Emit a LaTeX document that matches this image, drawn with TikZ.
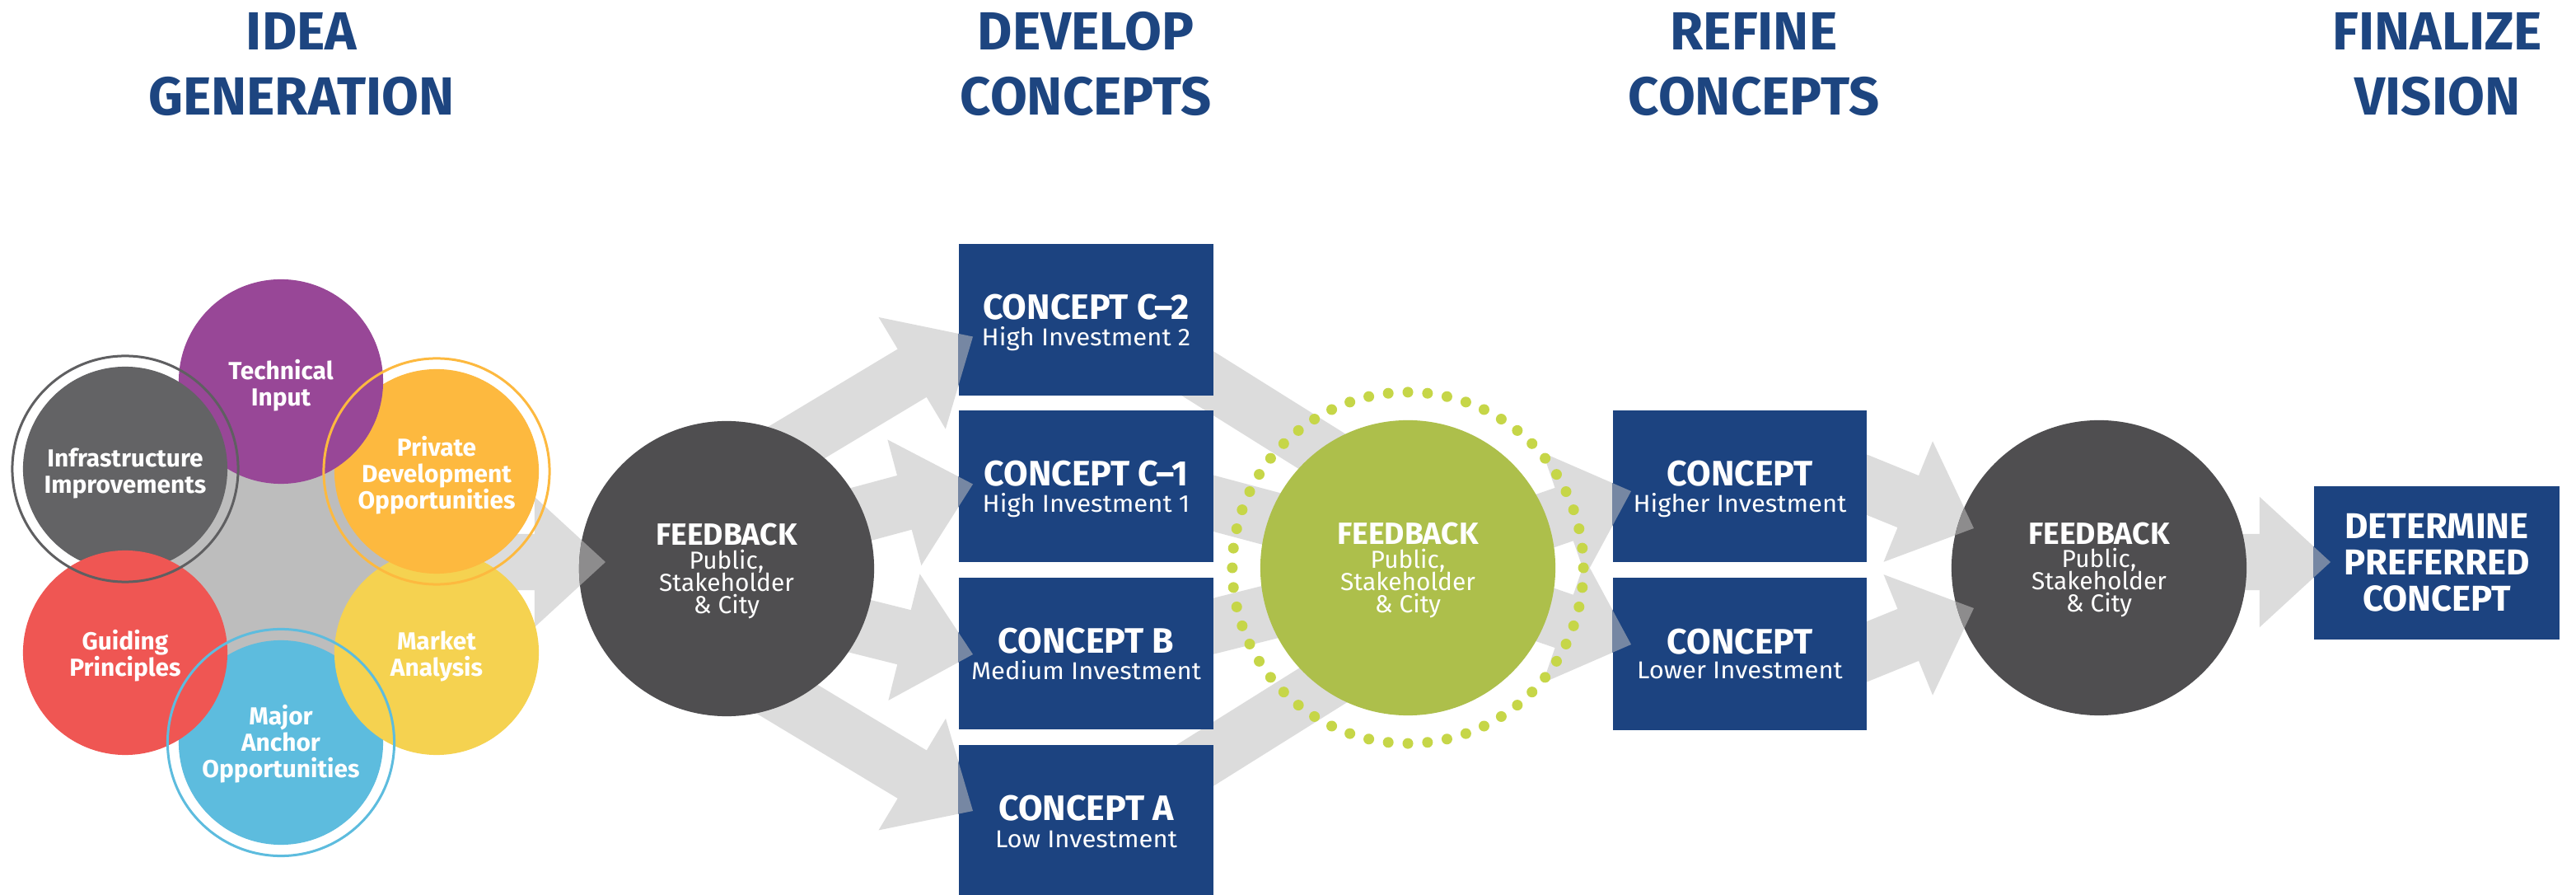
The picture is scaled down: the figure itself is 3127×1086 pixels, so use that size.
\documentclass[tikz,border=0pt]{standalone}
\usepackage{fontspec}
\setmainfont{Fira Sans}
\newfontfamily\subfont{Fira Sans}[FakeStretch=1.05]
\usetikzlibrary{calc}
\definecolor{hblue}{RGB}{29,69,128}
\definecolor{boxblue}{RGB}{28,67,128}
\definecolor{agray}{RGB}{220,220,220}
\definecolor{tintblue}{RGB}{118,135,163}
\definecolor{tintdark}{RGB}{141,140,141}
\definecolor{fbdark}{RGB}{79,78,80}
\definecolor{fbgreen}{RGB}{173,191,75}
\definecolor{dotgreen}{RGB}{198,214,72}
\definecolor{cpurple}{RGB}{152,71,151}
\definecolor{cgray}{RGB}{99,99,101}
\definecolor{cring}{RGB}{95,95,97}
\definecolor{corange}{RGB}{253,185,63}
\definecolor{cred}{RGB}{239,86,83}
\definecolor{cyellow}{RGB}{245,210,80}
\definecolor{cblue}{RGB}{93,188,222}
\definecolor{bggray}{RGB}{189,189,189}

\newcommand{\blockarrow}[3]{%
  \fill[#1] ($(#2)!0.34cm!90:(#3)$)
    -- ($($(#3)!0.86cm!(#2)$)!0.34cm!90:(#3)$)
    -- ($($(#3)!0.86cm!(#2)$)!0.79cm!90:(#3)$)
    -- (#3)
    -- ($($(#3)!0.86cm!(#2)$)!0.79cm!-90:(#3)$)
    -- ($($(#3)!0.86cm!(#2)$)!0.34cm!-90:(#3)$)
    -- ($(#2)!0.34cm!-90:(#3)$) -- cycle;}

\tikzset{
  circ/.style={circle, inner sep=0pt, minimum size=2.48cm},
  clab/.style={text=white, inner sep=0pt, align=center, font=\bfseries\fontsize{8.5}{9.1}\selectfont},
  ringline/.style={line width=0.03cm},
  fbcirc/.style={circle, inner sep=0pt, minimum size=3.58cm},
  cbox/.style={rectangle, fill=boxblue, inner sep=0pt, minimum width=3.09cm, minimum height=1.84cm},
  ttl/.style={text=white, anchor=base, inner sep=0pt, font=\bfseries\fontsize{12.2}{14}\selectfont},
  fttl/.style={text=white, anchor=base, inner sep=0pt, font=\bfseries\fontsize{12.4}{14}\selectfont},
  sub/.style={text=white, anchor=base, inner sep=0pt, font=\subfont\fontsize{8.4}{10}\selectfont},
  fbt/.style={text=white, anchor=base, inner sep=0pt, font=\bfseries\fontsize{10.6}{12}\selectfont},
  fbs/.style={text=white, anchor=base, inner sep=0pt, font=\fontsize{8.5}{10}\selectfont},
  hd/.style={text=hblue, anchor=base, inner sep=0pt, font=\bfseries\fontsize{18.5}{22}\selectfont},
  band/.style={draw=agray, line width=0.66cm},
}

\begin{document}
\begin{tikzpicture}[x=0.01cm, y=-0.01cm]
\fill[white] (0,0) rectangle (3127,1086);
\useasboundingbox (0,0) rectangle (3127,1086);

% ---------- arrow coordinates ----------
\coordinate (cl) at (341,682);   \coordinate (t0) at (735,682);
\coordinate (s1) at (900,577);   \coordinate (t1) at (1181,408.5);
\coordinate (s2) at (900,663);   \coordinate (t2) at (1181,587.5);
\coordinate (s3) at (900,724);   \coordinate (t3) at (1181,794);
\coordinate (s4) at (900,815);   \coordinate (t4) at (1181,984);
\coordinate (b1s) at (1380,407); \coordinate (b1e) at (1650,576);
\coordinate (b2s) at (1380,586); \coordinate (b2e) at (1620,650);
\coordinate (b3s) at (1380,783); \coordinate (b3e) at (1620,723);
\coordinate (b4s) at (1380,973); \coordinate (b4e) at (1650,804);
\coordinate (s5) at (1760,672);  \coordinate (t5) at (1980,596);
\coordinate (s6) at (1760,706);  \coordinate (t6) at (1980,782);
\coordinate (s7) at (2150,541);  \coordinate (t7) at (2396,641);
\coordinate (s8) at (2150,838);  \coordinate (t8) at (2396,738);
\coordinate (s9) at (2548,682);  \coordinate (t9) at (2829,682);

% ---------- grey arrows (bottom layer) ----------
\blockarrow{agray}{cl}{t0}
\blockarrow{agray}{s1}{t1}
\blockarrow{agray}{s2}{t2}
\blockarrow{agray}{s3}{t3}
\blockarrow{agray}{s4}{t4}
\draw[band] (b1s) -- (b1e);
\draw[band] (b2s) -- (b2e);
\draw[band] (b3s) -- (b3e);
\draw[band] (b4s) -- (b4e);
\blockarrow{agray}{s5}{t5}
\blockarrow{agray}{s6}{t6}
\blockarrow{agray}{s7}{t7}
\blockarrow{agray}{s8}{t8}
\blockarrow{agray}{s9}{t9}

% ---------- idea cluster ----------
\fill[bggray] (cl) circle (1.95cm);
\node[circ, fill=cblue]   (major) at (341,901) {};
\node[circ, fill=cyellow] (market) at (530,792) {};
\node[circ, fill=corange] (private) at (530,572) {};
\node[circ, fill=cpurple] (tech) at (341,463) {};
\node[circ, fill=cgray]   (infra) at (152,569) {};
\node[circ, fill=cred]    (guide) at (152,792) {};
\draw[ringline, cring] (infra.center) circle (1.37cm);
\draw[ringline, corange] (private.center) circle (1.37cm);
\draw[ringline, cblue] (major.center) circle (1.375cm);
\node[clab] (techl) at (341,468) {Technical\\Input};
\node[clab] (infral) at (152,574) {Infrastructure\\Improvements};
\node[clab] (privl) at (530,577) {Private\\Development\\Opportunities};
\node[clab] (guidel) at (152,796) {Guiding\\Principles};
\node[clab] (marketl) at (530,796) {Market\\Analysis};
\node[clab] (majorl) at (341,903) {Major\\Anchor\\Opportunities};

% ---------- feedback circles ----------
\node[fbcirc, fill=fbdark] (fb1) at (882,690) {};
\node[fbcirc, fill=fbgreen] (fb2) at (1709,689) {};
\foreach \a in {0,...,55} \fill[dotgreen] ($(fb2.center)+({\a*6.428571}:2.13cm)$) circle (0.065cm);
\node[fbcirc, fill=fbdark] (fb3) at (2548,689) {};

% ---------- boxes ----------
\node[cbox] (c2) at (1318.5,388) {};
\node[cbox] (c1) at (1318.5,590) {};
\node[cbox] (cb) at (1318.5,793) {};
\node[cbox] (ca) at (1318.5,996) {};
\node[cbox, minimum width=3.08cm] (rh) at (2112,590) {};
\node[cbox, minimum width=3.08cm] (rl) at (2112,793.5) {};
\node[cbox, minimum width=2.98cm, minimum height=1.86cm] (fin) at (2958,683) {};

% ---------- tinted arrow tips ----------
\begin{scope}\clip (fb1.center) circle (1.79cm); \blockarrow{tintdark}{cl}{t0}\end{scope}
\begin{scope}\clip (c2.south west) rectangle (c2.north east); \blockarrow{tintblue}{s1}{t1}\end{scope}
\begin{scope}\clip (c1.south west) rectangle (c1.north east); \blockarrow{tintblue}{s2}{t2}\end{scope}
\begin{scope}\clip (cb.south west) rectangle (cb.north east); \blockarrow{tintblue}{s3}{t3}\end{scope}
\begin{scope}\clip (ca.south west) rectangle (ca.north east); \blockarrow{tintblue}{s4}{t4}\end{scope}
\begin{scope}\clip (rh.south west) rectangle (rh.north east); \blockarrow{tintblue}{s5}{t5}\end{scope}
\begin{scope}\clip (rl.south west) rectangle (rl.north east); \blockarrow{tintblue}{s6}{t6}\end{scope}
\begin{scope}\clip (fb3.center) circle (1.79cm); \blockarrow{tintdark}{s7}{t7}\blockarrow{tintdark}{s8}{t8}\end{scope}
\begin{scope}\clip (fin.south west) rectangle (fin.north east); \blockarrow{tintblue}{s9}{t9}\end{scope}

% ---------- texts ----------
\node[fbt] (fb1a) at (882,662) {FEEDBACK};
\node[fbs] (fb1b) at (882,691) {Public,};
\node[fbs] (fb1c) at (882,718) {Stakeholder};
\node[fbs] (fb1d) at (882,745) {\& City};
\node[fbt] (fb2a) at (1709,661) {FEEDBACK};
\node[fbs] (fb2b) at (1709,690) {Public,};
\node[fbs] (fb2c) at (1709,717) {Stakeholder};
\node[fbs] (fb2d) at (1709,744) {\& City};
\node[fbt] (fb3a) at (2548,661) {FEEDBACK};
\node[fbs] (fb3b) at (2548,689) {Public,};
\node[fbs] (fb3c) at (2548,716) {Stakeholder};
\node[fbs] (fb3d) at (2548,743) {\& City};

\node[ttl] (c2t) at (1318.5,388) {CONCEPT C\textendash 2};
\node[sub] (c2s) at (1318.5,420) {High Investment 2};
\node[ttl] (c1t) at (1318.5,590) {CONCEPT C\textendash 1};
\node[sub] (c1s) at (1318.5,622) {High Investment 1};
\node[ttl] (cbt) at (1318.5,793) {CONCEPT B};
\node[sub] (cbs) at (1318.5,825) {Medium Investment};
\node[ttl] (cat) at (1318.5,996) {CONCEPT A};
\node[sub] (cas) at (1318.5,1028) {Low Investment};
\node[ttl] (rht) at (2112,590) {CONCEPT};
\node[sub] (rhs) at (2112,621.5) {Higher Investment};
\node[ttl] (rlt) at (2112,793.5) {CONCEPT};
\node[sub] (rls) at (2112,824) {Lower Investment};
\node[fttl] (fina) at (2958,654) {DETERMINE};
\node[fttl] (finb) at (2958,697.5) {PREFERRED};
\node[fttl] (finc) at (2958,741.5) {CONCEPT};

\node[hd] (h1a) at (366,61) {IDEA};
\node[hd] (h1b) at (366,140) {GENERATION};
\node[hd] (h2a) at (1318,61) {DEVELOP};
\node[hd] (h2b) at (1318,140) {CONCEPTS};
\node[hd] (h3a) at (2129,61) {REFINE};
\node[hd] (h3b) at (2129,140) {CONCEPTS};
\node[hd] (h4a) at (2959,61) {FINALIZE};
\node[hd] (h4b) at (2959,140) {VISION};
\end{tikzpicture}
\end{document}
